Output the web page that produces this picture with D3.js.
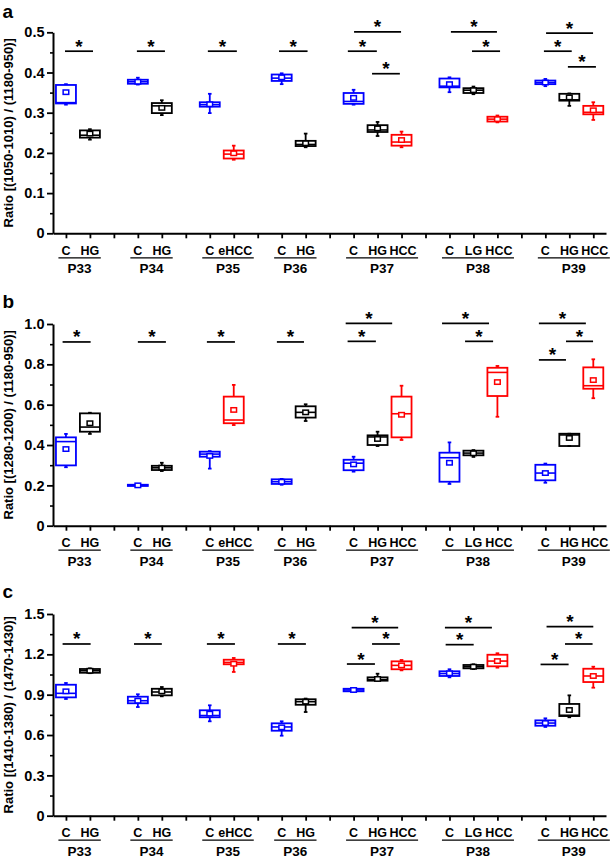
<!DOCTYPE html>
<html><head><meta charset="utf-8">
<script src="https://cdn.jsdelivr.net/npm/d3@7"></script>
<style>
html,body{margin:0;padding:0;background:#fff;}
svg{display:block;}
text{font-family:"Liberation Sans",Arial,sans-serif;font-weight:bold;}
</style></head>
<body><svg id="chart" width="615" height="859"></svg>
<script>
// ---------- DATA ----------
const groups = ["P33","P34","P35","P36","P37","P38","P39"];
const groupCats = [["C","HG"],["C","HG"],["C","eHCC"],["C","HG"],["C","HG","HCC"],["C","LG","HCC"],["C","HG","HCC"]];

// each box: [lowWhisker, q1, median, q3, highWhisker, mean]
const statsA = [
  [0.320,0.323,0.325,0.369,0.371,0.351],
  [0.233,0.238,0.244,0.256,0.259,0.248],
  [0.370,0.372,0.377,0.382,0.387,0.377],
  [0.294,0.299,0.317,0.324,0.331,0.312],
  [0.299,0.315,0.320,0.326,0.347,0.321],
  [0.183,0.186,0.197,0.206,0.218,0.199],
  [0.371,0.379,0.386,0.395,0.398,0.388],
  [0.214,0.217,0.221,0.230,0.248,0.224],
  [0.320,0.322,0.328,0.349,0.357,0.337],
  [0.242,0.252,0.257,0.269,0.277,0.261],
  [0.214,0.218,0.227,0.245,0.253,0.232],
  [0.351,0.363,0.366,0.385,0.388,0.371],
  [0.346,0.349,0.356,0.361,0.365,0.356],
  [0.276,0.278,0.284,0.290,0.293,0.284],
  [0.366,0.371,0.375,0.380,0.384,0.375],
  [0.317,0.330,0.332,0.347,0.348,0.338],
  [0.282,0.296,0.301,0.317,0.326,0.306]
];
const statsB = [
  [0.290,0.299,0.417,0.438,0.455,0.380],
  [0.455,0.466,0.489,0.557,0.560,0.508],
  [0.196,0.197,0.200,0.203,0.204,0.200],
  [0.271,0.276,0.287,0.297,0.312,0.288],
  [0.283,0.342,0.355,0.367,0.370,0.346],
  [0.499,0.508,0.524,0.640,0.698,0.574],
  [0.203,0.207,0.218,0.230,0.232,0.218],
  [0.519,0.536,0.562,0.592,0.602,0.562],
  [0.268,0.275,0.310,0.327,0.342,0.304],
  [0.395,0.400,0.440,0.448,0.466,0.430],
  [0.425,0.438,0.555,0.640,0.694,0.550],
  [0.207,0.218,0.337,0.362,0.413,0.312],
  [0.341,0.349,0.360,0.372,0.375,0.359],
  [0.540,0.643,0.760,0.783,0.792,0.712],
  [0.213,0.225,0.261,0.302,0.308,0.261],
  [0.395,0.395,0.450,0.456,0.456,0.435],
  [0.632,0.679,0.694,0.785,0.825,0.722]
];
const statsC = [
  [0.868,0.880,0.910,0.974,0.987,0.925],
  [1.060,1.063,1.078,1.091,1.096,1.078],
  [0.808,0.836,0.855,0.885,0.903,0.855],
  [0.888,0.895,0.920,0.944,0.957,0.925],
  [0.702,0.732,0.745,0.784,0.821,0.759],
  [1.069,1.126,1.140,1.160,1.173,1.130],
  [0.595,0.632,0.660,0.687,0.702,0.657],
  [0.771,0.825,0.848,0.866,0.871,0.848],
  [0.920,0.925,0.935,0.944,0.948,0.935],
  [1.004,1.004,1.012,1.029,1.056,1.017],
  [1.081,1.089,1.118,1.148,1.158,1.118],
  [1.029,1.039,1.057,1.074,1.089,1.059],
  [1.091,1.096,1.108,1.121,1.126,1.108],
  [1.101,1.111,1.150,1.197,1.208,1.150],
  [0.660,0.669,0.689,0.709,0.724,0.689],
  [0.732,0.741,0.747,0.831,0.895,0.786],
  [0.952,0.994,1.039,1.093,1.108,1.039]
];

// significance bars: [from position, to position, level]
const sigA = [
  [0.96,2.13,0.453],[3.96,5.13,0.453],[6.92,8.13,0.453],[9.89,11.08,0.453],
  [13.02,14.98,0.501],[12.76,13.97,0.453],[13.77,14.93,0.397],
  [17.06,18.98,0.501],[17.94,19.11,0.453],
  [21.03,22.99,0.498],[20.94,22.10,0.453],[21.94,23.11,0.414]
];
const sigB = [
  [0.86,2.03,0.911],[4.00,5.17,0.911],[6.88,8.05,0.911],[9.80,10.93,0.911],
  [12.67,14.61,1.003],[12.75,13.93,0.914],
  [16.69,18.65,1.003],[17.65,18.82,0.914],
  [20.73,22.69,1.003],[21.86,22.99,0.914],[20.73,21.86,0.822]
];
const sigC = [
  [0.86,2.03,1.277],[3.84,5.00,1.277],[6.88,8.05,1.277],[9.84,11.01,1.277],
  [12.92,14.86,1.398],[13.77,14.93,1.277],[12.72,13.89,1.128],
  [16.81,18.77,1.398],[16.84,18.01,1.272],
  [21.05,23.00,1.406],[21.82,22.97,1.277],[20.80,21.97,1.125]
];

const ticksA = [0,0.1,0.2,0.3,0.4,0.5];
const tickLabelsA = ["0","0.1","0.2","0.3","0.4","0.5"];
const ticksB = [0,0.2,0.4,0.6,0.8,1.0];
const tickLabelsB = ["0","0.2","0.4","0.6","0.8","1.0"];
const ticksC = [0,0.3,0.6,0.9,1.2,1.5];
const tickLabelsC = ["0","0.3","0.6","0.9","1.2","1.5"];

const titles = ["Ratio [(1050-1010) / (1180-950)]","Ratio [(1280-1200) / (1180-950)]","Ratio [(1410-1380) / (1470-1430)]"];
const letters = ["a","b","c"];

// ---------- STYLE / LAYOUT ----------
const catColor = {C:"#0000ff", HG:"#000000", LG:"#000000", eHCC:"#ff0000", HCC:"#ff0000"};
const layout = [
  {top:32.3, bottom:233.3, letterY:18.3},
  {top:324, bottom:525.7, letterY:308.3},
  {top:614, bottom:815.7, letterY:598.3}
];
const panelData = [
  {stats:statsA, sig:sigA, ticks:ticksA, labels:tickLabelsA},
  {stats:statsB, sig:sigB, ticks:ticksB, labels:tickLabelsB},
  {stats:statsC, sig:sigC, ticks:ticksC, labels:tickLabelsC}
];

const boxes = [];
{
  let p = 1;
  groupCats.forEach((cats, gi) => {
    cats.forEach(c => { boxes.push({group: gi, cat: c, pos: p}); p++; });
    p++;
  });
}
const allTicks = d3.range(1, 24);

const svg = d3.select("#chart");
const x = d3.scaleLinear().domain([0.46, 23.53]).range([53, 606]);
const boxHalf = 10;

panelData.forEach((pd, pi) => {
  const L = layout[pi];
  const yMax = pd.ticks[pd.ticks.length - 1];
  const y = d3.scaleLinear().domain([0, yMax]).range([L.bottom, L.top]);
  const g = svg.append("g");

  const minor = d3.pairs(pd.ticks).map(([a, b]) => (a + b) / 2);
  const yMinor = g.append("g").attr("transform", `translate(53,0)`)
    .call(d3.axisLeft(y).tickValues(minor).tickSize(3).tickSizeOuter(0).tickFormat(""));
  yMinor.select(".domain").remove();
  yMinor.selectAll("line").attr("stroke", "#000").attr("stroke-width", 1.6);

  const yAx = g.append("g").attr("transform", `translate(53,0)`)
    .call(d3.axisLeft(y).tickValues(pd.ticks).tickSize(6).tickSizeOuter(0)
      .tickFormat((d, i) => pd.labels[i]));
  yAx.select(".domain").attr("stroke", "#000").attr("stroke-width", 2);
  yAx.selectAll("line").attr("stroke", "#000").attr("stroke-width", 1.8);
  yAx.selectAll("text").attr("font-size", 14.5).attr("font-weight", "bold")
    .attr("font-family", '"Liberation Sans",Arial,sans-serif').attr("fill", "#000")
    .attr("x", -8.5);

  const xAx = g.append("g").attr("transform", `translate(0,${L.bottom})`)
    .call(d3.axisBottom(x).tickValues(allTicks).tickSize(5).tickSizeOuter(0).tickFormat(""));
  xAx.select(".domain").attr("stroke", "#000").attr("stroke-width", 2);
  xAx.selectAll("line").attr("stroke", "#000").attr("stroke-width", 1.8);

  g.append("text")
    .attr("transform", `translate(12.5,${(L.top + L.bottom) / 2}) rotate(-90)`)
    .attr("text-anchor", "middle").attr("font-size", 13).text(titles[pi]);

  g.append("text").attr("x", 2.5).attr("y", L.letterY).attr("font-size", 19).text(letters[pi]);

  const bg = g.selectAll("g.box").data(boxes).join("g").attr("class", "box");
  bg.each(function(b, i) {
    const s = pd.stats[i];
    const col = catColor[b.cat];
    const sel = d3.select(this);
    const cx = x(b.pos);
    sel.append("line").attr("x1", cx).attr("x2", cx).attr("y1", y(s[4])).attr("y2", y(s[3]))
      .attr("stroke", col).attr("stroke-width", 1.8);
    sel.append("line").attr("x1", cx).attr("x2", cx).attr("y1", y(s[1])).attr("y2", y(s[0]))
      .attr("stroke", col).attr("stroke-width", 1.8);
    [s[0], s[4]].forEach(v => {
      sel.append("line").attr("x1", cx - 1.8).attr("x2", cx + 1.8).attr("y1", y(v)).attr("y2", y(v))
        .attr("stroke", col).attr("stroke-width", 1.8);
    });
    sel.append("rect").attr("x", cx - boxHalf).attr("width", boxHalf * 2)
      .attr("y", y(s[3])).attr("height", Math.max(0.5, y(s[1]) - y(s[3])))
      .attr("fill", "none").attr("stroke", col).attr("stroke-width", 1.8);
    sel.append("line").attr("x1", cx - boxHalf).attr("x2", cx + boxHalf).attr("y1", y(s[2])).attr("y2", y(s[2]))
      .attr("stroke", col).attr("stroke-width", 1.6);
    sel.append("rect").attr("x", cx - 2.8).attr("width", 5.6).attr("y", y(s[5]) - 2.2).attr("height", 4.4)
      .attr("fill", "#fff").attr("stroke", col).attr("stroke-width", 1.5);
  });

  pd.sig.forEach(([a, b, lev]) => {
    g.append("line").attr("x1", x(a)).attr("x2", x(b)).attr("y1", y(lev)).attr("y2", y(lev))
      .attr("stroke", "#000").attr("stroke-width", 1.7);
    g.append("text").attr("x", (x(a) + x(b)) / 2).attr("y", y(lev) + 1.5)
      .attr("text-anchor", "middle").attr("font-size", 19).text("*");
  });

  groups.forEach((gname, gi) => {
    const bs = boxes.filter(b => b.group === gi);
    const texts = bs.map((b, k) => g.append("text")
      .attr("x", x(b.pos) + (k > 0 && b.cat.length > 2 ? 1.5 : 0))
      .attr("y", L.bottom + 21.5)
      .attr("text-anchor", "middle").attr("font-size", 12.5).text(b.cat));
    const boxesBB = texts.map(t => t.node().getBBox());
    const left = d3.min(boxesBB, d => d.x) - 3;
    const right = d3.max(boxesBB, d => d.x + d.width) + 1.5;
    g.append("line").attr("x1", left).attr("x2", right).attr("y1", L.bottom + 24.5).attr("y2", L.bottom + 24.5)
      .attr("stroke", "#000").attr("stroke-width", 1.3);
    g.append("text").attr("x", (left + right) / 2).attr("y", L.bottom + 40)
      .attr("text-anchor", "middle").attr("font-size", 13.5).text(gname);
  });
});
</script></body></html>
